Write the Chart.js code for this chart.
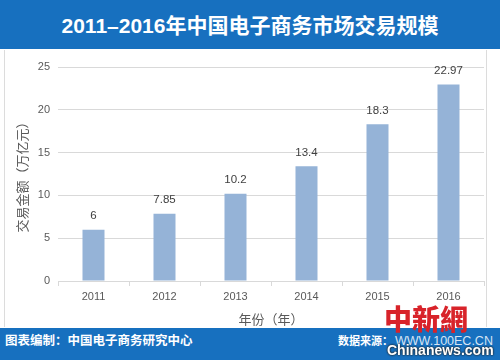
<!DOCTYPE html>
<html><head><meta charset="utf-8">
<script src="https://cdn.jsdelivr.net/npm/chart.js@4.4.1/dist/chart.umd.min.js"></script>
<style>
html,body{margin:0;padding:0;background:#fff;}
#wrap{position:relative;width:500px;height:360px;overflow:hidden;background:#fff;font-family:"Liberation Sans","Noto Sans CJK SC",sans-serif;}
#top{position:absolute;left:0;top:0;width:500px;height:49px;background:#1770bf;}
#title{position:absolute;left:0;top:14px;width:500px;text-align:center;color:#fff;font-weight:bold;font-size:21px;line-height:24px;font-family:"Liberation Sans","Noto Sans CJK SC",sans-serif;white-space:nowrap;}
#panel{position:absolute;left:4px;top:50px;width:481px;height:277px;border-left:1px solid #dcdcdc;border-right:1px solid #dcdcdc;}
#bot{position:absolute;left:0;top:328px;width:500px;height:32px;background:#1770bf;}
#fl{position:absolute;left:5px;top:332px;color:#fff;font-weight:bold;font-size:12.5px;font-family:"Noto Sans CJK SC",sans-serif;line-height:16px;white-space:nowrap;}
#fr{position:absolute;left:338px;top:332px;color:#fff;font-weight:bold;font-size:11px;font-family:"Noto Sans CJK SC",sans-serif;line-height:16px;white-space:nowrap;}
#fr span{color:#d6e4f4;font-family:"Liberation Sans",sans-serif;font-weight:normal;font-size:12.5px;margin-left:2px;}
#wm1{position:absolute;left:384px;top:300px;color:#d8232a;font-weight:900;font-size:28px;line-height:36px;font-family:"Noto Sans CJK TC","Noto Sans CJK SC",serif;white-space:nowrap;}
#wm2{position:absolute;left:387px;top:342px;color:#fff;font-weight:bold;font-size:14px;line-height:16px;font-family:"Liberation Sans Narrow","Liberation Sans",sans-serif;text-shadow:0 0 2px #222,0 0 2px #222;white-space:nowrap;}
#c{position:absolute;left:0;top:49px;}
</style></head>
<body><div id="wrap">
<div id="top"></div>
<div id="title">2011–2016年中国电子商务市场交易规模</div>
<div id="panel"></div>
<canvas id="c" width="500" height="279"></canvas>
<div id="bot"></div>
<div id="fl">图表编制：中国电子商务研究中心</div>
<div id="fr">数据来源：<span>WWW.100EC.CN</span></div>
<div id="wm1">中新網</div>
<div id="wm2">Chinanews.com</div>
</div>
<script>
const categories = ["2011","2012","2013","2014","2015","2016"];
const values = [6, 7.85, 10.2, 13.4, 18.3, 22.97];
const valueLabels = ["6","7.85","10.2","13.4","18.3","22.97"];
const yTitle = "交易金额（万亿元）";
const xTitle = "年份（年）";

const fontFam = '"Liberation Sans","Noto Sans CJK SC",sans-serif';
const labelPlugin = {
  id: 'vlabels',
  afterDatasetsDraw(chart) {
    const ctx = chart.ctx;
    const meta = chart.getDatasetMeta(0);
    ctx.save();
    ctx.fillStyle = '#404040';
    ctx.font = '11.5px ' + fontFam;
    ctx.textAlign = 'center';
    ctx.textBaseline = 'bottom';
    meta.data.forEach((bar, i) => {
      ctx.fillText(valueLabels[i], bar.x, bar.y - 8);
    });
    ctx.restore();
  }
};

new Chart(document.getElementById('c'), {
  type: 'bar',
  data: {
    labels: categories,
    datasets: [{
      data: values,
      backgroundColor: '#95b3d7',
      barPercentage: 0.31,
      categoryPercentage: 1.0
    }]
  },
  options: {
    responsive: false,
    animation: false,
    devicePixelRatio: 1,
    layout: { padding: { left: 0, right: 16, top: 18, bottom: 0 } },
    plugins: { legend: { display: false }, tooltip: { enabled: false } },
    scales: {
      y: {
        min: 0, max: 25,
        ticks: { stepSize: 5, color: '#595959', font: { size: 11, family: fontFam }, padding: 8 },
        grid: { color: '#d9d9d9', drawTicks: false },
        border: { display: false },
        title: { display: true, text: yTitle, color: '#595959', font: { size: 13, family: '"Noto Sans CJK SC",sans-serif' }, padding: { top: 14, bottom: 0 } },
        afterFit(s) { s.width = 58; }
      },
      x: {
        ticks: { color: '#595959', font: { size: 11, family: fontFam }, padding: 4 },
        grid: { display: true, drawOnChartArea: false, drawTicks: true, tickLength: 5, color: '#d9d9d9' },
        border: { display: true, color: '#d9d9d9' },
        title: { display: true, text: xTitle, color: '#595959', font: { size: 13, family: '"Noto Sans CJK SC",sans-serif' }, padding: { top: 0, bottom: 1 } },
        afterFit(s) { s.height = 47; }
      }
    }
  },
  plugins: [labelPlugin]
});
</script>
</body></html>
